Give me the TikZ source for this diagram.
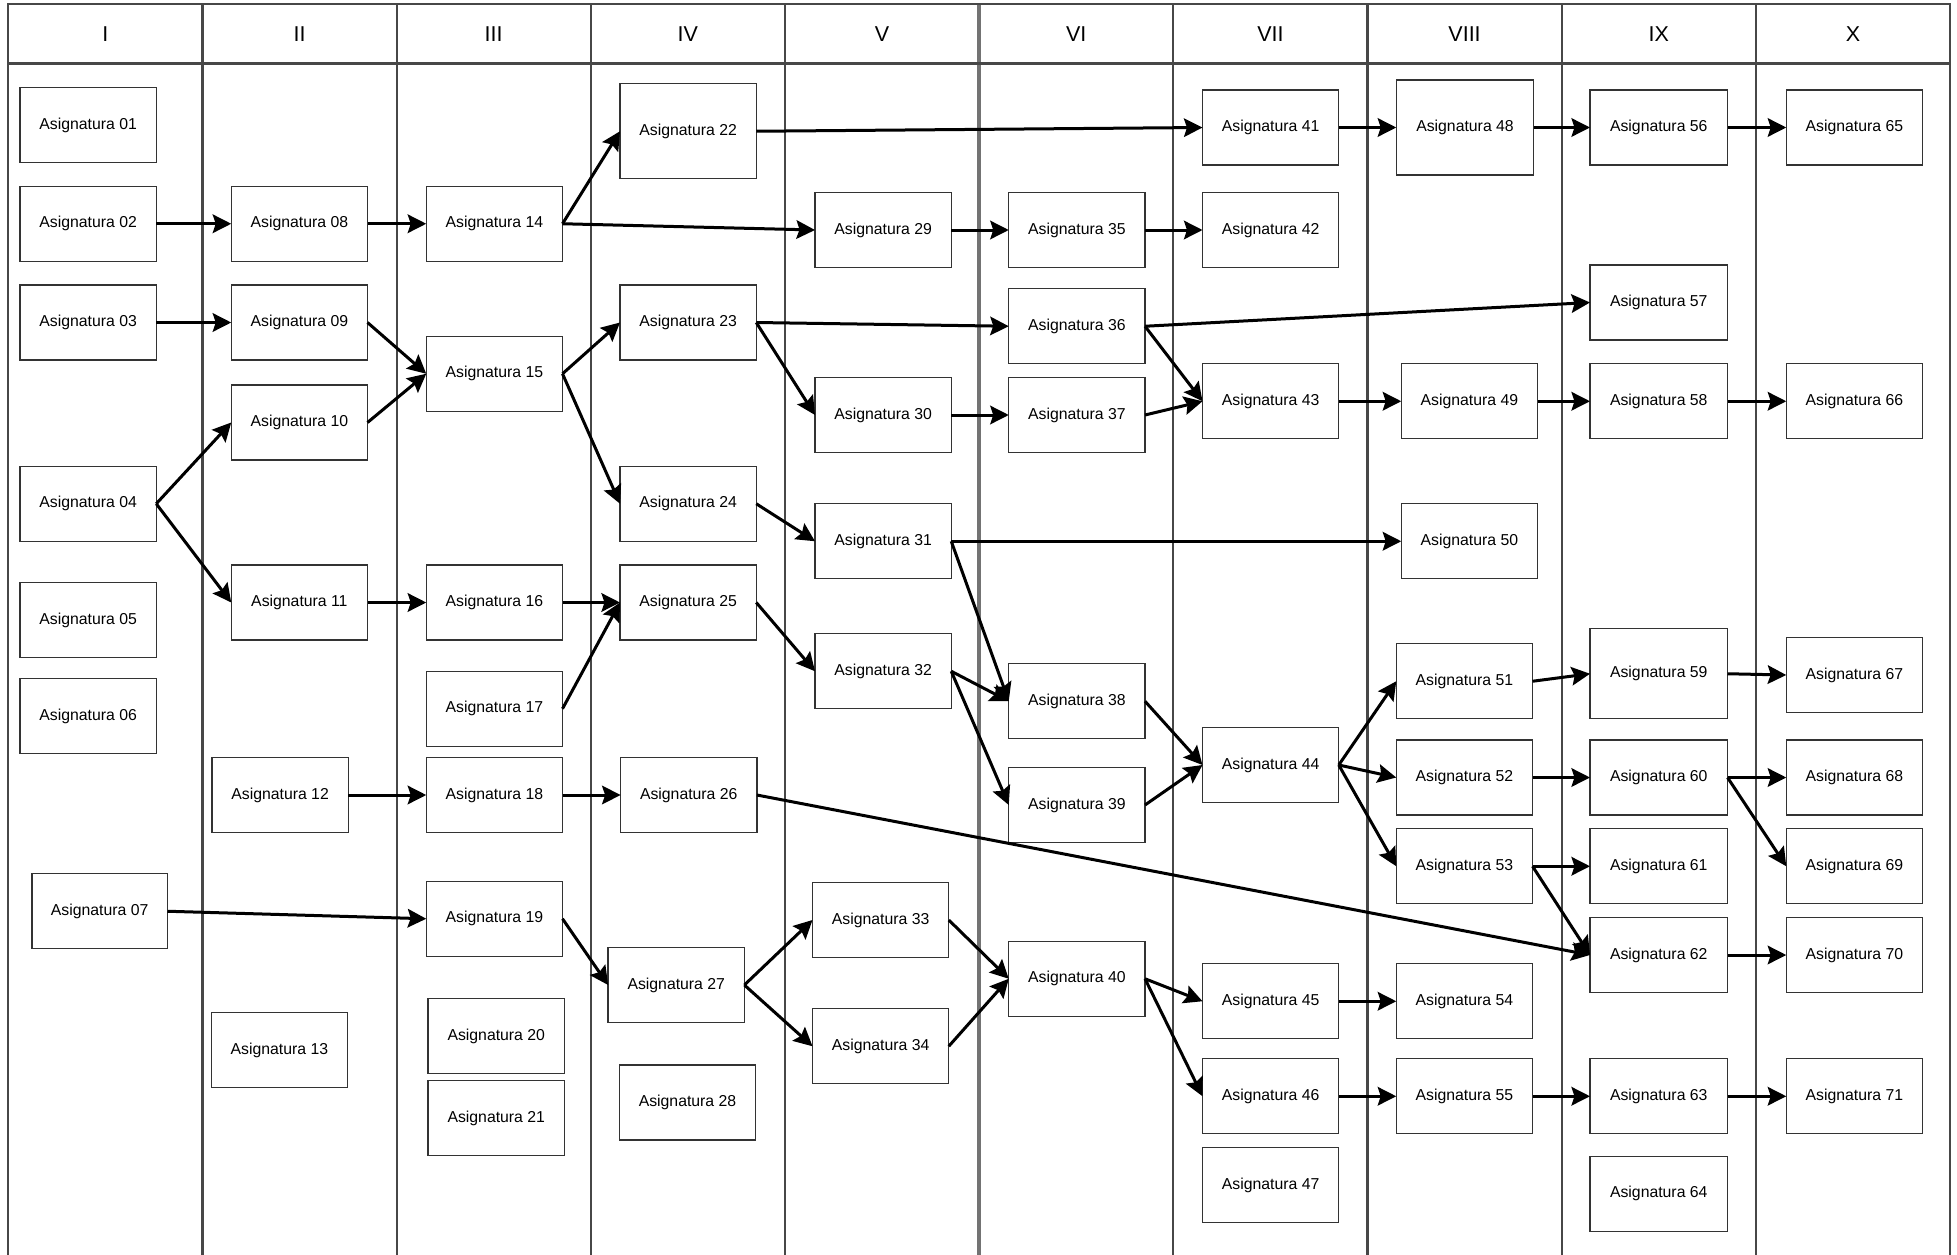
\documentclass[tikz,border=0pt]{standalone}
\usepackage{fontspec}
\setmainfont{Liberation Sans}
\usetikzlibrary{arrows.meta}
\tikzset{
  asig/.style={draw=black!80, line width=1.3pt, fill=white, rectangle, inner sep=0pt, outer sep=0pt,
    font=\fontsize{15.8}{19}\selectfont, text=black},
  colline/.style={draw=black!72, line width=2.2pt},
  hdrtext/.style={font=\fontsize{21.5}{25}\selectfont, text=black, inner sep=0pt},
  prereq/.style={draw=black, line width=3pt, -{Stealth[length=18.5pt, width=18.5pt, inset=3pt]}},
}
\newcommand\asig[5]{\node[asig, minimum width={(#4-#2)*1.25pt}, minimum height={(#5-#3)*1.25pt}] (a#1) at ({(#2+#4)/2},{(#3+#5)/2}) {Asignatura #1};}
\begin{document}
\begin{tikzpicture}[x=1.25pt, y=-1.25pt]
\path[use as bounding box, fill=white] (0,0) rectangle (1565.6,1004);
% table
\foreach \k in {1,2,3,4,6,7,8,9} {
  \draw[colline] ({6.6+155.34*\k},3.2) -- ({6.6+155.34*\k},1004);
}
\draw[draw=black!55, line width=4pt] ({6.6+155.34*5},3.2) -- ({6.6+155.34*5},1004);
\draw[colline] (6.6,1004) -- (6.6,3.2) -- (1560,3.2) -- (1560,1004);
\draw[draw=black!72, line width=3pt] (6.6,51) -- (1560,51);
\foreach \r [count=\i from 0] in {I,II,III,IV,V,VI,VII,VIII,IX,X} {
  \node[hdrtext] (h\i) at ({6.6+155.34*(\i+0.5)},27.2) {\r};
}
% column I
\asig{01}{16}{70}{125}{130}
\asig{02}{16}{149}{125}{209}
\asig{03}{16}{228}{125}{288}
\asig{04}{16}{373}{125}{433}
\asig{05}{16}{466}{125}{526}
\asig{06}{16}{543}{125}{603}
\asig{07}{25.5}{699}{134}{759}
% column II
\asig{08}{185}{149}{294}{209}
\asig{09}{185}{228}{294}{288}
\asig{10}{185}{308}{294}{368}
\asig{11}{185}{452}{294}{512}
\asig{12}{169.5}{606}{278.6}{666}
\asig{13}{169}{810}{278}{870}
% column III
\asig{14}{341}{149}{450}{209}
\asig{15}{341}{269}{450}{329}
\asig{16}{341}{452}{450}{512}
\asig{17}{341}{537}{450}{597}
\asig{18}{341}{606}{450}{666}
\asig{19}{341}{705}{450}{765}
\asig{20}{342.5}{799}{451.5}{859}
\asig{21}{342.5}{864.5}{451.5}{924.5}
% column IV
\asig{22}{496}{67}{605}{143}
\asig{23}{496}{228}{605}{288}
\asig{24}{496}{373}{605}{433}
\asig{25}{496}{452}{605}{512}
\asig{26}{496.5}{606}{605.5}{666}
\asig{27}{486.5}{758}{595.5}{818}
\asig{28}{495.5}{852}{604.5}{912}
% column V
\asig{29}{652}{154}{761}{214}
\asig{30}{652}{302}{761}{362}
\asig{31}{652}{403}{761}{463}
\asig{32}{652}{507}{761}{567}
\asig{33}{650}{706}{759}{766}
\asig{34}{650}{807}{759}{867}
% column VI
\asig{35}{807}{154}{916}{214}
\asig{36}{807}{231}{916}{291}
\asig{37}{807}{302}{916}{362}
\asig{38}{807}{531}{916}{591}
\asig{39}{807}{614}{916}{674}
\asig{40}{807}{753}{916}{813}
% column VII
\asig{41}{962}{72}{1071}{132}
\asig{42}{962}{154}{1071}{214}
\asig{43}{962}{291}{1071}{351}
\asig{44}{962}{582}{1071}{642}
\asig{45}{962}{771}{1071}{831}
\asig{46}{962}{847}{1071}{907}
\asig{47}{962}{918}{1071}{978}
% column VIII
\asig{48}{1117}{64}{1227}{140}
\asig{49}{1121}{291}{1230}{351}
\asig{50}{1121}{403}{1230}{463}
\asig{51}{1117}{515}{1226}{575}
\asig{52}{1117}{592}{1226}{652}
\asig{53}{1117}{663}{1226}{723}
\asig{54}{1117}{771}{1226}{831}
\asig{55}{1117}{847}{1226}{907}
% column IX
\asig{56}{1272}{72}{1382}{132}
\asig{57}{1272}{212}{1382}{272}
\asig{58}{1272}{291}{1382}{351}
\asig{59}{1272}{503}{1382}{575}
\asig{60}{1272}{592}{1382}{652}
\asig{61}{1272}{663}{1382}{723}
\asig{62}{1272}{734}{1382}{794}
\asig{63}{1272}{847}{1382}{907}
\asig{64}{1272}{925}{1382}{985}
% column X
\asig{65}{1429}{72}{1538}{132}
\asig{66}{1429}{291}{1538}{351}
\asig{67}{1429}{510}{1538}{570}
\asig{68}{1429}{592}{1538}{652}
\asig{69}{1429}{663}{1538}{723}
\asig{70}{1429}{734}{1538}{794}
\asig{71}{1429}{847}{1538}{907}
% prerequisites
\foreach \s/\t in {02/08,08/14,03/09,09/15,10/15,04/10,04/11,11/16,14/22,14/29,15/23,15/24,16/25,17/25,12/18,18/26,07/19,19/27,22/41,23/36,23/30,24/31,25/32,26/62,27/33,27/34,29/35,30/37,31/50,31/38,32/38,32/39,33/40,34/40,35/42,36/57,36/43,37/43,38/44,39/44,40/45,40/46,41/48,43/49,44/51,44/52,44/53,45/54,46/55,48/56,49/58,51/59,52/60,53/61,53/62,55/63,56/65,58/66,59/67,60/68,60/69,62/70,63/71} {
  \draw[prereq] (a\s.east) -- (a\t.west);
}
\end{tikzpicture}
\end{document}
